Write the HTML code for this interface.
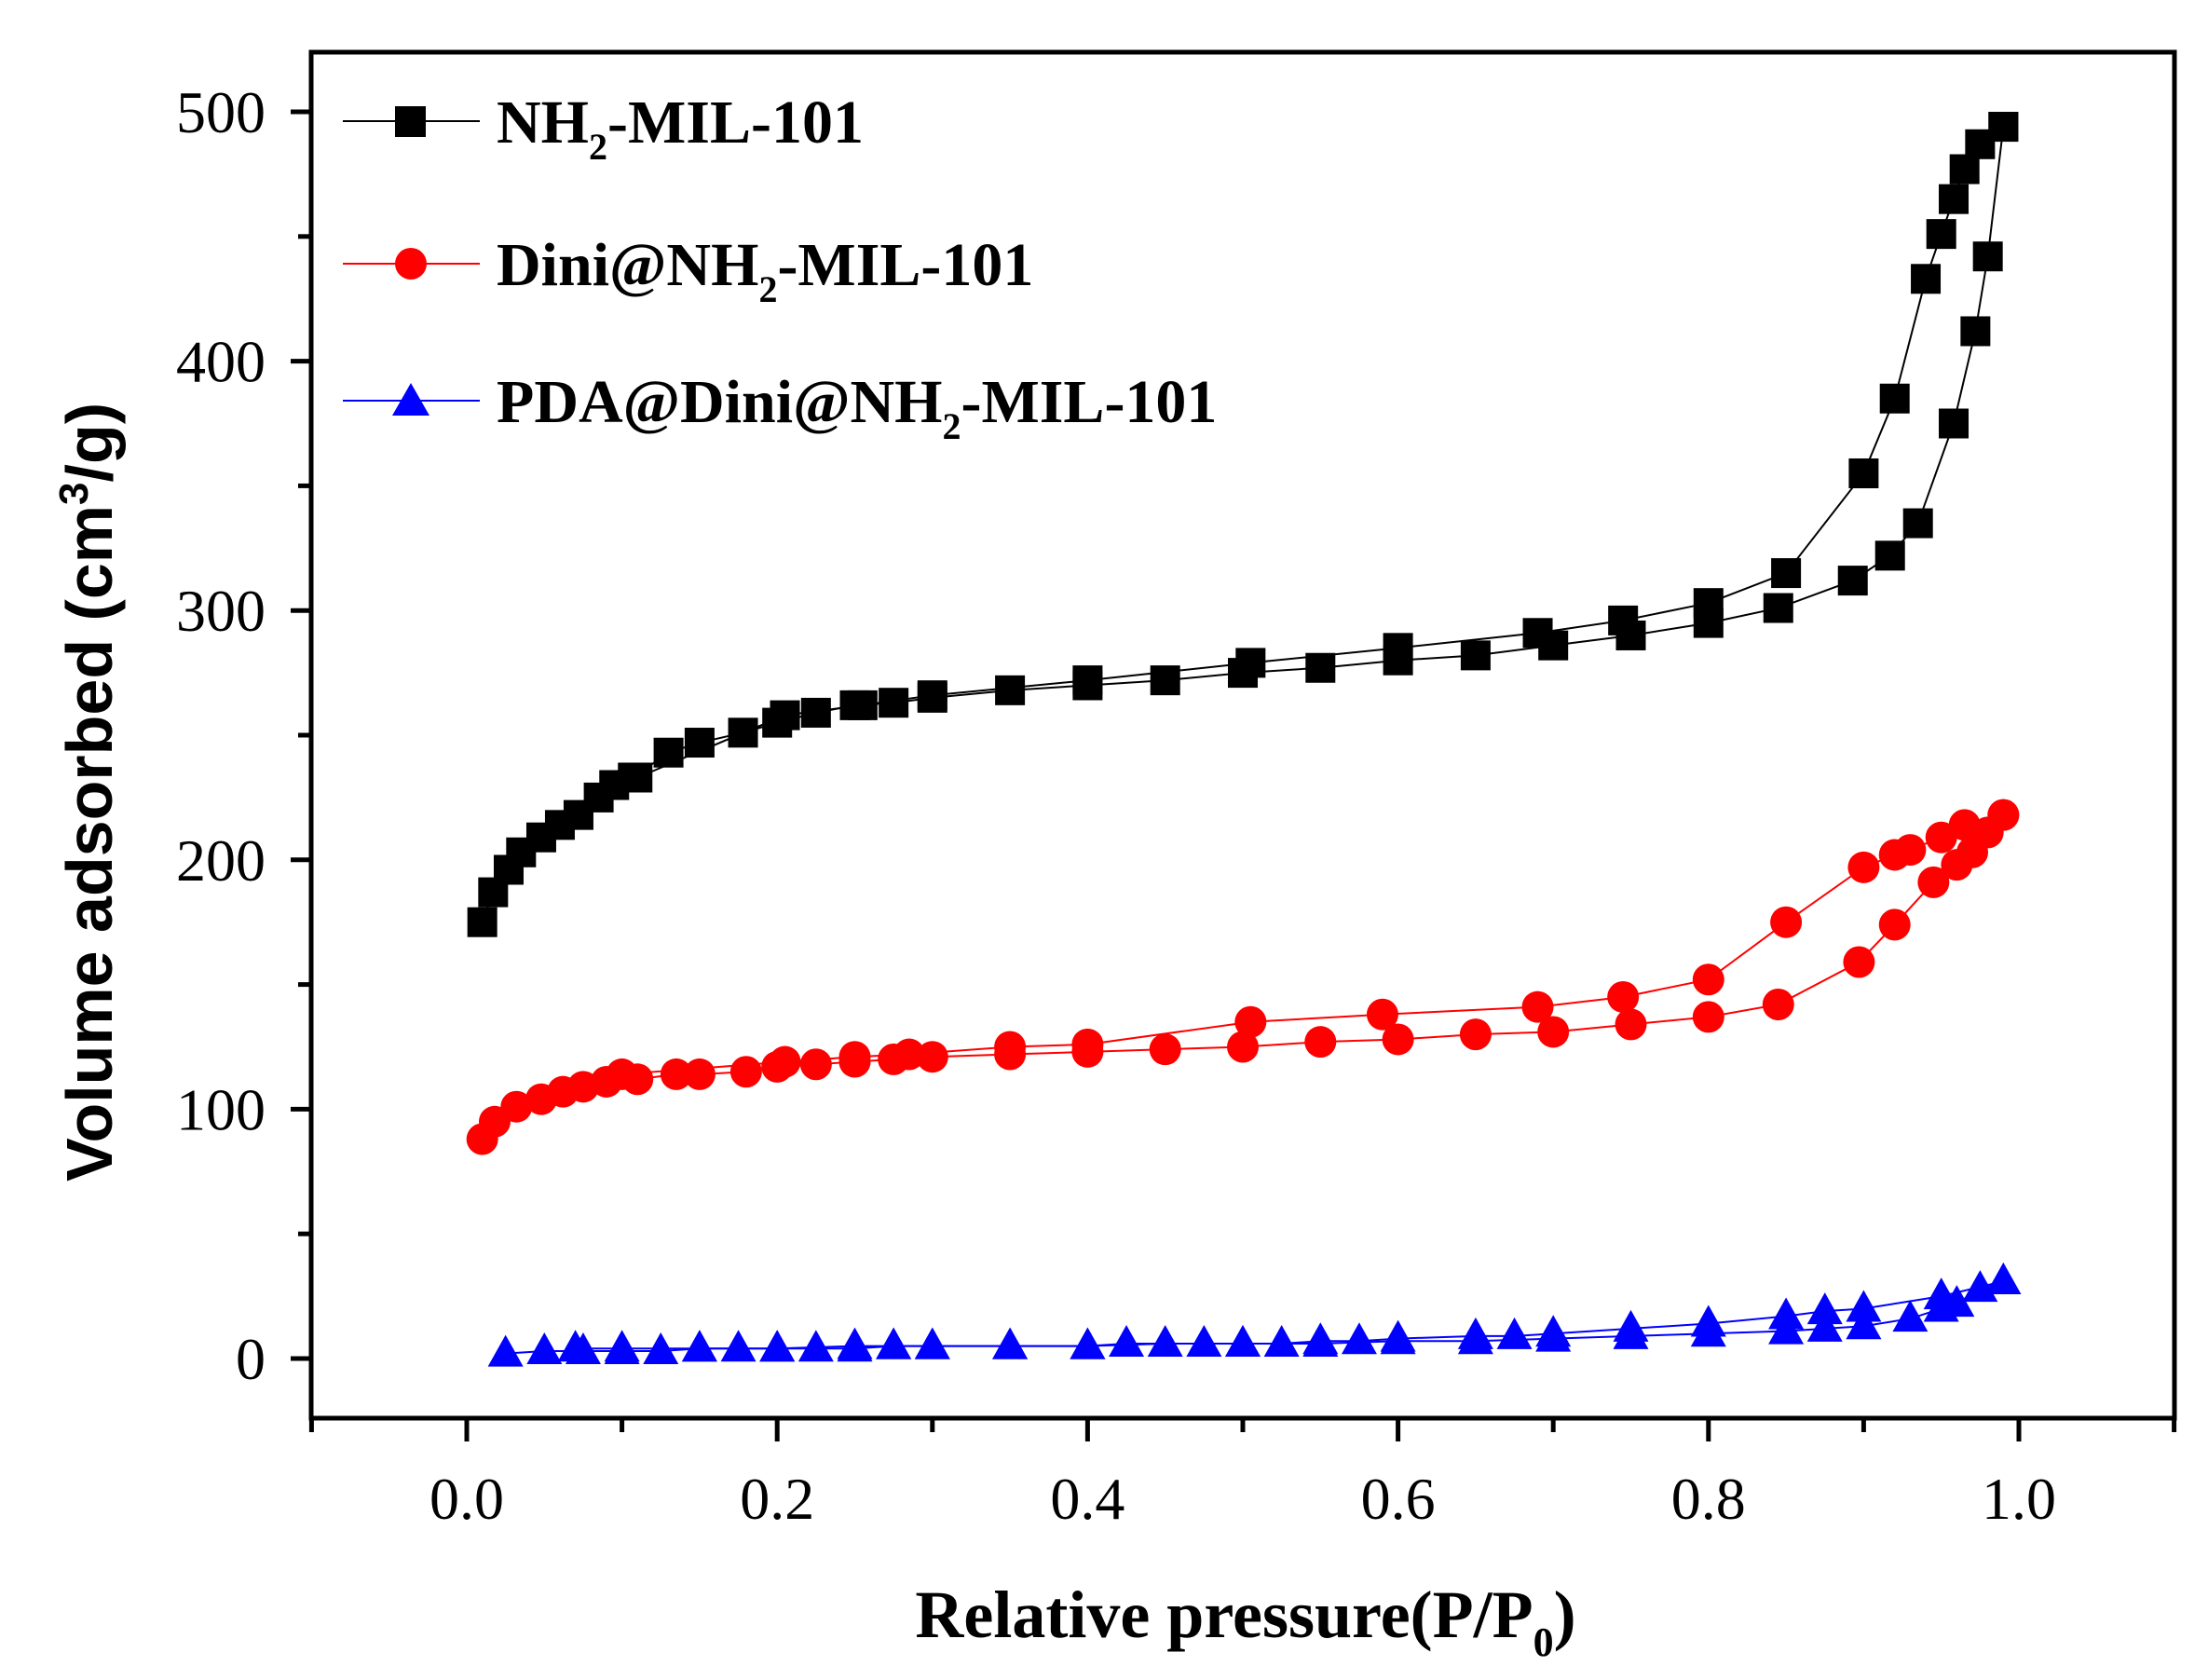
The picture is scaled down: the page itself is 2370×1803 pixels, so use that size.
<!DOCTYPE html>
<html><head><meta charset="utf-8"><style>
html,body{margin:0;padding:0;background:#fff;}
svg{display:block;}
</style></head><body>
<svg id="c" width="2370" height="1803" viewBox="0 0 2370 1803" xmlns="http://www.w3.org/2000/svg">
<rect width="2370" height="1803" fill="#fff"/>
<g id="data"></g>
<rect x="334" y="56" width="2000" height="1466" fill="none" stroke="#000" stroke-width="5"/>
<g id="ticks" stroke="#000" stroke-width="5"></g>
<g font-family="Liberation Serif, serif" font-size="64" fill="#000" id="labels"></g>
<g font-family="Liberation Serif, serif" font-weight="bold" font-size="66" fill="#000">
<line x1="368" y1="130" x2="515" y2="130" stroke="#000" stroke-width="2"/>
<rect x="424" y="114" width="33" height="33" fill="#000"/>
<text x="533" y="153">NH<tspan font-size="40" dy="18">2</tspan><tspan dy="-18">-MIL-101</tspan></text>
<line x1="368" y1="283" x2="515" y2="283" stroke="#f00" stroke-width="2"/>
<circle cx="441" cy="283" r="17" fill="#f00"/>
<text x="533" y="306">Dini@NH<tspan font-size="40" dy="18">2</tspan><tspan dy="-18">-MIL-101</tspan></text>
<line x1="368" y1="430" x2="515" y2="430" stroke="#00f" stroke-width="2"/>
<polygon points="441,411 461,446 421,446" fill="#00f"/>
<text x="533" y="453">PDA@Dini@NH<tspan font-size="40" dy="18">2</tspan><tspan dy="-18">-MIL-101</tspan></text>
<text x="1337" y="1757" text-anchor="middle" font-size="72">Relative pressure(P/P<tspan font-size="44" dy="20">0</tspan><tspan dy="-20">)</tspan></text>
</g>
<text transform="translate(120,850) rotate(-90)" text-anchor="middle" font-family="Liberation Sans, sans-serif" font-weight="bold" font-size="70">Volume adsorbed (cm<tspan font-size="44" dy="-26">3</tspan><tspan dy="26">/g)</tspan></text>
</svg>
<script>
var NS="http://www.w3.org/2000/svg";
function X(v){return 501+v*1666;}
function Y(v){return 1458-v*2.676;}
function el(p,t,a){var e=document.createElementNS(NS,t);for(var k in a)e.setAttribute(k,a[k]);p.appendChild(e);return e;}
var tk=document.getElementById('ticks'),lb=document.getElementById('labels');
for(var i=0;i<=10;i++){var v=i*50,y=Y(v),maj=i%2==0;el(tk,'line',{x1:334,x2:maj?312:320,y1:y,y2:y});
 if(maj){var t=el(lb,'text',{x:285,y:y+22,'text-anchor':'end'});t.textContent=v;}}
for(var i=-1;i<=11;i++){var x=X(i/10),maj=(i%2==0);el(tk,'line',{x1:x,x2:x,y1:1522,y2:maj?1547:1537});
 if(maj&&i>=0&&i<=10){var t=el(lb,'text',{x:x,y:1630,'text-anchor':'middle'});t.textContent=(i/10).toFixed(1);}}
var B1=[[0.01,175],[0.017,187],[0.027,196],[0.035,203],[0.048,209],[0.06,214],[0.072,218],[0.085,225],[0.095,230],[0.107,233],[0.13,243],[0.15,247],[0.178,251],[0.2,255],[0.225,259],[0.25,262],[0.275,263],[0.3,265],[0.35,268],[0.4,270],[0.45,272],[0.5,275],[0.55,277],[0.6,280],[0.65,282],[0.7,286],[0.75,290],[0.8,295],[0.845,301],[0.893,312],[0.917,322],[0.935,335],[0.958,375],[0.972,412],[0.98,442],[0.99,494]];
var B2=[[0.99,494],[0.975,487],[0.965,477],[0.958,465],[0.95,451],[0.94,433],[0.92,385],[0.9,355],[0.85,315],[0.8,303],[0.745,296],[0.69,291],[0.6,285],[0.505,279],[0.4,272],[0.3,266],[0.255,262],[0.205,258],[0.11,233]];
var R1=[[0.01,88],[0.018,95],[0.032,101],[0.048,104],[0.062,107],[0.075,109],[0.09,111],[0.11,112],[0.135,114],[0.15,114],[0.18,115],[0.2,117],[0.225,118],[0.25,119],[0.275,120],[0.3,121],[0.35,122],[0.4,123],[0.45,124],[0.5,125],[0.55,127],[0.6,128],[0.65,130],[0.7,131],[0.75,134],[0.8,137],[0.845,142],[0.897,159],[0.92,174],[0.945,191],[0.96,198],[0.97,203],[0.98,211],[0.99,218]];
var R2=[[0.99,218],[0.965,214],[0.95,209],[0.93,204],[0.92,202],[0.9,197],[0.85,175],[0.8,152],[0.745,145],[0.69,141],[0.59,138],[0.505,135],[0.4,126],[0.35,125],[0.285,122],[0.25,121],[0.205,119],[0.1,114]];
var U1=[[0.025,2],[0.05,3],[0.075,3],[0.1,3],[0.125,3],[0.15,4],[0.175,4],[0.2,4],[0.225,4],[0.25,4],[0.275,5],[0.3,5],[0.35,5],[0.4,5],[0.45,6],[0.5,6],[0.55,6],[0.6,7],[0.65,7],[0.7,8],[0.75,9],[0.8,10],[0.85,11],[0.875,12],[0.9,13],[0.93,16],[0.95,20],[0.96,22],[0.975,28],[0.99,31]];
var U2=[[0.99,31],[0.95,25],[0.9,20],[0.875,19],[0.85,17],[0.8,14],[0.75,12],[0.7,10],[0.675,9],[0.65,9],[0.6,8],[0.575,7],[0.55,7],[0.525,6],[0.5,6],[0.475,6],[0.425,6],[0.4,5],[0.35,5],[0.3,5],[0.275,5],[0.25,5],[0.2,4],[0.15,4],[0.1,4],[0.07,4]];
var g=document.getElementById('data');
function line(d,c){el(g,'polyline',{points:d.map(function(p){return X(p[0])+','+Y(p[1]);}).join(' '),fill:'none',stroke:c,'stroke-width':2});}
function mk(d,type,c){d.forEach(function(p){var x=X(p[0]),y=Y(p[1]);
 if(type=='s')el(g,'rect',{x:x-16,y:y-16,width:32,height:32,fill:c});
 else if(type=='c')el(g,'circle',{cx:x,cy:y,r:17,fill:c});
 else el(g,'polygon',{points:x+','+(y-20)+' '+(x+19)+','+(y+14)+' '+(x-19)+','+(y+14),fill:c});});}
line(B1,'#000');line(B2,'#000');line(R1,'#f00');line(R2,'#f00');line(U1,'#00f');line(U2,'#00f');
mk(B1,'s','#000');mk(B2,'s','#000');mk(R1,'c','#f00');mk(R2,'c','#f00');mk(U1,'t','#00f');mk(U2,'t','#00f');
</script>
</body></html>
